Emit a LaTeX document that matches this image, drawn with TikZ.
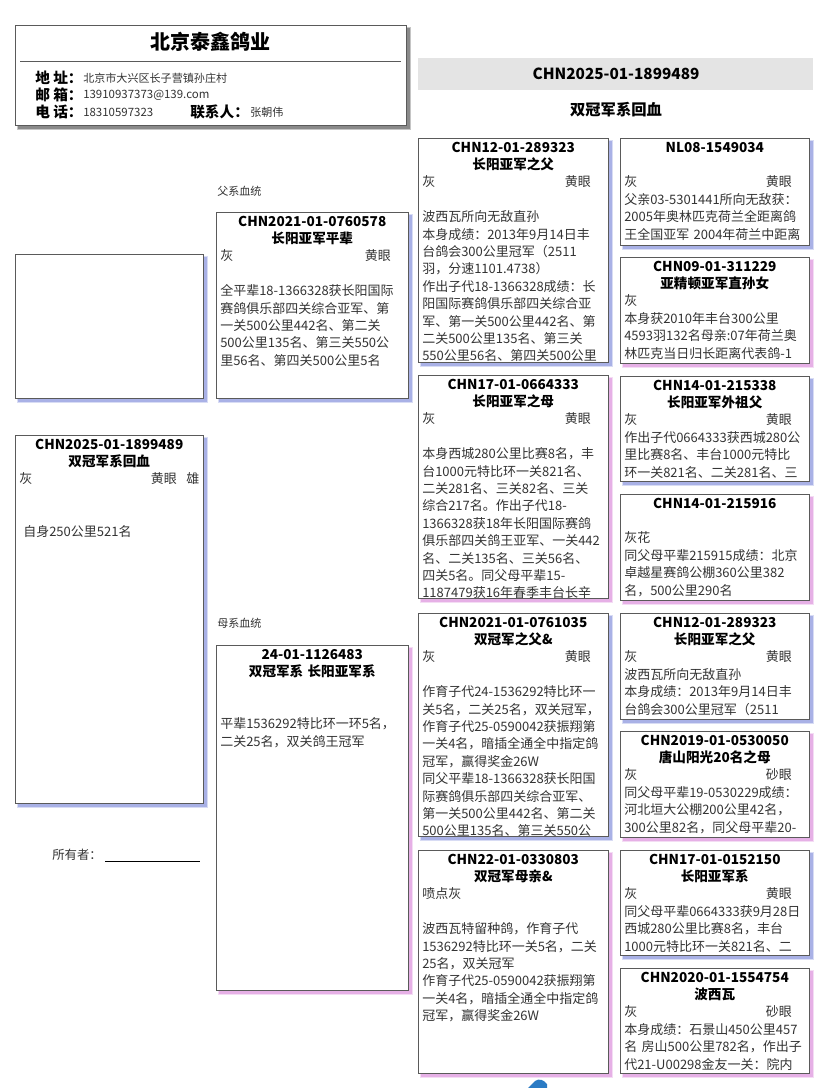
\documentclass[tikz,border=0pt]{standalone}
\usepackage{fontspec}
\setmainfont{Noto Sans CJK SC}
\lineskiplimit=-50pt
\definecolor{shblue}{HTML}{A9B1E6}
\definecolor{shpink}{HTML}{E6B0E6}
\definecolor{shgrey}{HTML}{8A8A8A}
\definecolor{cardline}{HTML}{5A5A5A}
\definecolor{bodytxt}{HTML}{333333}
\definecolor{band}{HTML}{E4E4E4}
\definecolor{logoblue}{HTML}{2B7BC4}
\newcommand\bodyfont{\fontsize{9.75pt}{13.05pt}\selectfont}
\newcommand\hd[1]{\makebox[\linewidth]{\color{black}\fontsize{10.2pt}{13.05pt}\selectfont\bfseries #1}}
\newcommand\ce[2]{\makebox[\linewidth][l]{#1\hfill #2\hspace{10pt}}}
\newcommand\pcard[7]{%
  \fill[#6!45] (#2+2,#3+2) rectangle (#2+#4+5,#3+#5+5);
  \fill[#6] (#2+3,#3+3) rectangle (#2+#4+4,#3+#5+4);
  \pgfmathsetlengthmacro\cardw{#4*0.75pt}%
  \pgfmathsetlengthmacro\cardh{#5*0.75pt}%
  \pgfmathsetlengthmacro\cardtw{(#4-8)*0.75pt}%
  \node[cardbox, minimum width=\cardw, minimum height=\cardh] (#1) at (#2,#3) {};
  \begin{scope}
    \clip (#1.north west) rectangle (#1.south east);
    \node[cardtext, text width=\cardtw] (#1t) at (#2+4,#3+14) {#7};
  \end{scope}
  \draw[cardline, line width=0.6pt] (#1.north west) rectangle (#1.south east);
}
\begin{document}
\begin{tikzpicture}[x=0.75pt,y=-0.75pt,
  cardbox/.style={draw=cardline, fill=white, line width=0.6pt, anchor=north west, inner sep=0pt, outer sep=0pt},
  cardtext/.style={anchor=base west, inner sep=0pt, align=left, font=\bodyfont, text=bodytxt},
  lbl/.style={anchor=west, inner sep=0pt, font=\fontsize{11pt}{13pt}\selectfont\bfseries},
  val/.style={anchor=west, inner sep=0pt, font=\fontsize{8.3pt}{10pt}\selectfont, text=bodytxt},
  small/.style={anchor=west, inner sep=0pt, font=\fontsize{8.3pt}{10pt}\selectfont, text=bodytxt}]
\useasboundingbox (0,0) rectangle (828,1088);
\fill[white] (0,0) rectangle (828,1088);

% header
\fill[shgrey!50] (17,27) rectangle (411,130);
\fill[shgrey] (18,28) rectangle (410,129);
\node[cardbox, draw=cardline, minimum width=293.25pt, minimum height=75pt] (hdr) at (15,25) {};
\node[inner sep=0pt, font=\fontsize{15pt}{17pt}\selectfont\bfseries] (title) at (210,42) {北京泰鑫鸽业};
\coordinate (hl) at (20,61);
\coordinate (hr) at (401,61);
\draw[cardline, line width=0.6pt] (hl) -- (hr);
\node[lbl] (l1) at (35,78) {地 址：};
\node[val] (v1) at (83,78) {北京市大兴区长子营镇孙庄村};
\node[lbl] (l2) at (35,95) {邮 箱：};
\node[val, font=\fontsize{8.6pt}{10pt}\selectfont] (v2) at (83,95) {13910937373@139.com};
\node[lbl] (l3) at (35,112) {电 话：};
\node[val, font=\fontsize{8.6pt}{10pt}\selectfont] (v3) at (83,112) {18310597323};
\node[lbl] (l4) at (190,112) {联系人：};
\node[val] (v4) at (250,112) {张朝伟};

% right title band
\fill[band] (418,58) rectangle (813,90);
\node[inner sep=0pt, font=\fontsize{11.5pt}{13pt}\selectfont\bfseries] (rt) at (616,74) {CHN2025-01-1899489};
\node[inner sep=0pt, font=\fontsize{11.5pt}{13pt}\selectfont\bfseries] (rs) at (616,110) {双冠军系回血};

% left column
\fill[shblue!45] (17,256) rectangle (208,403);
\fill[shblue] (18,257) rectangle (207,402);
\node[cardbox, minimum width=141pt, minimum height=108pt] (empty) at (15,254) {};

\pcard{self}{15}{435}{188}{368}{shblue}{%
\hd{CHN2025-01-1899489}\\
\hd{双冠军系回血}\\
\makebox[\linewidth][l]{灰\hfill 黄眼\hspace{7pt}雄}\\
~\\
~\\
\hspace*{3pt}自身250公里521名}

\node[small, font=\fontsize{9.3pt}{11pt}\selectfont] (owner) at (52,855) {所有者：};
\coordinate (ul) at (105,861);
\coordinate (ur) at (200,861);
\draw[black, line width=0.7pt] (ul) -- (ur);

% parents
\node[small] (fl) at (217,191) {父系血统};
\node[small] (ml) at (217,623) {母系血统};

\pcard{fa}{216}{212}{192}{186}{shblue}{%
\hd{CHN2021-01-0760578}\\
\hd{长阳亚军平辈}\\
\ce{灰}{黄眼}\\
~\\
全平辈18-1366328获长阳国际\\
赛鸽俱乐部四关综合亚军、第\\
一关500公里442名、第二关\\
500公里135名、第三关550公\\
里56名、第四关500公里5名}

\pcard{mo}{216}{645}{192}{345}{shpink}{%
\hd{24-01-1126483}\\
\hd{双冠军系 长阳亚军系}\\
~\\
~\\
平辈1536292特比环一环5名，\\
二关25名，双关鸽王冠军}

% grandparents
\pcard{ma}{418}{138}{190}{224}{shblue}{%
\hd{CHN12-01-289323}\\
\hd{长阳亚军之父}\\
\ce{灰}{黄眼}\\
~\\
波西瓦所向无敌直孙\\
本身成绩：2013年9月14日丰\\
台鸽会300公里冠军（2511\\
羽，分速1101.4738）\\
作出子代18-1366328成绩：长\\
阳国际赛鸽俱乐部四关综合亚\\
军、第一关500公里442名、第\\
二关500公里135名、第三关\\
550公里56名、第四关500公里}

\pcard{mb}{418}{375}{190}{223}{shpink}{%
\hd{CHN17-01-0664333}\\
\hd{长阳亚军之母}\\
\ce{灰}{黄眼}\\
~\\
本身西城280公里比赛8名，丰\\
台1000元特比环一关821名、\\
二关281名、三关82名、三关\\
综合217名。作出子代18-\\
1366328获18年长阳国际赛鸽\\
俱乐部四关鸽王亚军、一关442\\
名、二关135名、三关56名、\\
四关5名。同父母平辈15-\\
1187479获16年春季丰台长辛}

\pcard{mc}{418}{613}{190}{223}{shblue}{%
\hd{CHN2021-01-0761035}\\
\hd{双冠军之父\&}\\
\ce{灰}{黄眼}\\
~\\
作育子代24-1536292特比环一\\
关5名，二关25名，双关冠军，\\
作育子代25-0590042获振翔第\\
一关4名，暗插全通全中指定鸽\\
冠军，赢得奖金26W\\
同父平辈18-1366328获长阳国\\
际赛鸽俱乐部四关综合亚军、\\
第一关500公里442名、第二关\\
500公里135名、第三关550公}

\pcard{md}{418}{850}{190}{223}{shpink}{%
\hd{CHN22-01-0330803}\\
\hd{双冠军母亲\&}\\
喷点灰\\
~\\
波西瓦特留种鸽，作育子代\\
1536292特比环一关5名，二关\\
25名，双关冠军\\
作育子代25-0590042获振翔第\\
一关4名，暗插全通全中指定鸽\\
冠军，赢得奖金26W}

% great-grandparents
\pcard{ra}{620}{138}{189}{107}{shblue}{%
\hd{NL08-1549034}\\
~\\
\ce{灰}{黄眼}\\
父亲03-5301441所向无敌获：\\
2005年奥林匹克荷兰全距离鸽\\
\mbox{王全国亚军 2004年荷兰中距离}}

\pcard{rb}{620}{257}{189}{106}{shpink}{%
\hd{CHN09-01-311229}\\
\hd{亚精顿亚军直孙女}\\
灰\\
本身获2010年丰台300公里\\
4593羽132名母亲:07年荷兰奥\\
林匹克当日归长距离代表鸽-1}

\pcard{rc}{620}{376}{189}{105}{shblue}{%
\hd{CHN14-01-215338}\\
\hd{长阳亚军外祖父}\\
\ce{灰}{黄眼}\\
作出子代0664333获西城280公\\
里比赛8名、丰台1000元特比\\
环一关821名、二关281名、三}

\pcard{rd}{620}{494}{189}{106}{shpink}{%
\hd{CHN14-01-215916}\\
~\\
灰花\\
同父母平辈215915成绩：北京\\
卓越星赛鸽公棚360公里382\\
名，500公里290名}

\pcard{re}{620}{613}{189}{106}{shblue}{%
\hd{CHN12-01-289323}\\
\hd{长阳亚军之父}\\
\ce{灰}{黄眼}\\
波西瓦所向无敌直孙\\
本身成绩：2013年9月14日丰\\
台鸽会300公里冠军（2511}

\pcard{rf}{620}{731}{189}{106}{shpink}{%
\hd{CHN2019-01-0530050}\\
\hd{唐山阳光20名之母}\\
\ce{灰}{砂眼}\\
同父母平辈19-0530229成绩：\\
河北垣大公棚200公里42名，\\
300公里82名，同父母平辈20-}

\pcard{rg}{620}{850}{189}{105}{shblue}{%
\hd{CHN17-01-0152150}\\
\hd{长阳亚军系}\\
\ce{灰}{黄眼}\\
同父母平辈0664333获9月28日\\
西城280公里比赛8名，丰台\\
1000元特比环一关821名、二}

\pcard{rh}{620}{968}{189}{105}{shpink}{%
\hd{CHN2020-01-1554754}\\
\hd{波西瓦}\\
\ce{灰}{砂眼}\\
本身成绩：石景山450公里457\\
\mbox{名 房山500公里782名，作出子}\\
代21-U00298金友一关：院内}

% partial logo at bottom edge
\fill[logoblue] (528,1088) -- (535,1081) .. controls (539,1078) and (544,1080) .. (547,1084) -- (547,1088) -- cycle;

\end{tikzpicture}
\end{document}
